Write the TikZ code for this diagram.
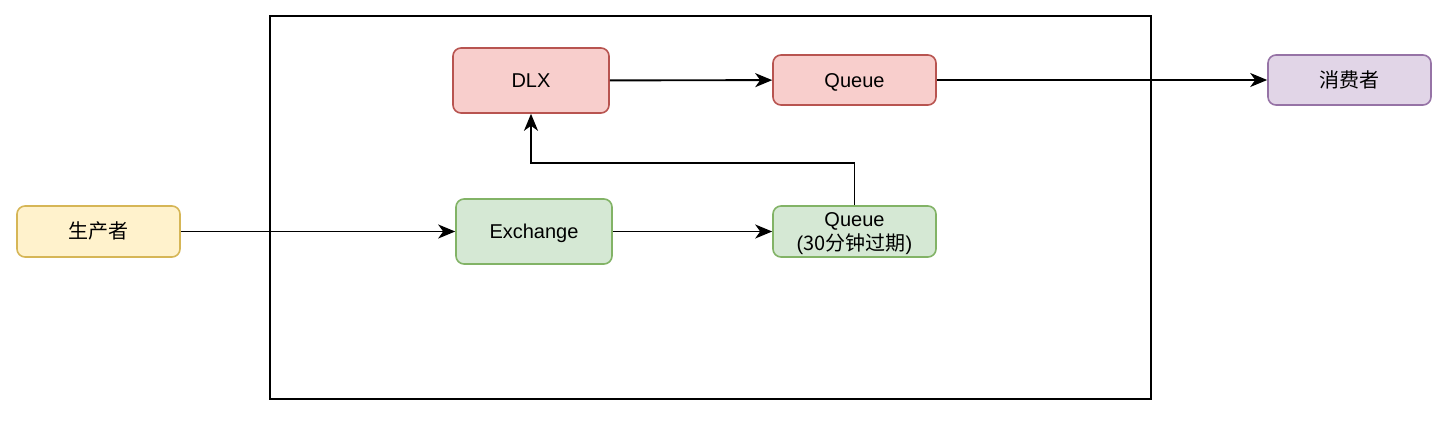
\documentclass[tikz,border=0pt]{standalone}
\usepackage{fontspec}
\setmainfont{Liberation Sans}
\newfontfamily\cjk{Noto Sans CJK SC}
\usetikzlibrary{arrows.meta}
\definecolor{redfill}{HTML}{F8CECC}
\definecolor{redline}{HTML}{B85450}
\definecolor{greenfill}{HTML}{D5E8D4}
\definecolor{greenline}{HTML}{82B366}
\definecolor{yellowfill}{HTML}{FFF2CC}
\definecolor{yellowline}{HTML}{D6B656}
\definecolor{purplefill}{HTML}{E1D5E7}
\definecolor{purpleline}{HTML}{9673A6}
\tikzset{
  box/.style={draw, rounded corners=8pt, line width=1.6pt, inner sep=0pt, align=center,
    text height=14.3pt, text depth=0pt,
    font=\fontsize{20pt}{24pt}\selectfont},
  redbox/.style={box, fill=redfill, draw=redline},
  greenbox/.style={box, fill=greenfill, draw=greenline},
  yellowbox/.style={box, fill=yellowfill, draw=yellowline},
  purplebox/.style={box, fill=purplefill, draw=purpleline},
  plaintext/.style={inner sep=0pt, align=center, font=\fontsize{20pt}{24pt}\selectfont},
  conn/.style={line width=1.9pt, -{Stealth[length=17pt,width=14pt,inset=5pt]}},
}
\begin{document}
\begin{tikzpicture}[x=1pt,y=-1pt]
\useasboundingbox (0,0) rectangle (1443,431);
\draw[line width=1.7pt] (270,16) rectangle (1151,399);
\node[redbox, minimum width=156pt, minimum height=65pt] (dlx) at (531,80.5) {DLX};
\node[redbox, minimum width=163pt, minimum height=50pt] (q1) at (854.5,80) {Queue};
\node[purplebox, minimum width=163pt, minimum height=50pt] (cons) at (1349.5,80) {\cjk 消费者};
\node[yellowbox, minimum width=163pt, minimum height=51pt] (prod) at (98.5,231.5) {\cjk 生产者};
\node[greenbox, minimum width=156pt, minimum height=65pt] (ex) at (534,231.5) {Exchange};
\node[greenbox, minimum width=163pt, minimum height=51pt] (q2) at (854.5,231.5) {};
\node[plaintext] (q2text) at ([yshift=-2pt]q2.center) {Queue\\({\cjk 30分钟过期})};
\draw[conn] (prod) -- (ex);
\draw[conn] (ex) -- (q2);
\draw[conn] (q2.north) -- ++(0,-42) -| (dlx.south);
\draw[conn] (dlx) -- (q1);
\draw[conn] (q1) -- (cons);
\end{tikzpicture}
\end{document}
